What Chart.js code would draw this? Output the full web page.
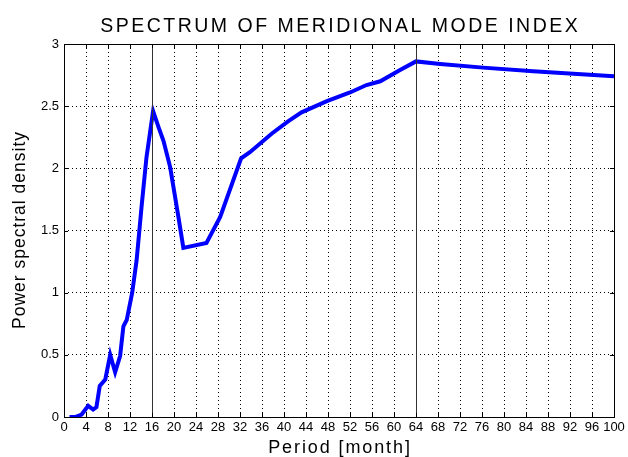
<!DOCTYPE html>
<html>
<head>
<meta charset="utf-8">
<script src="https://cdn.jsdelivr.net/npm/chart.js@4/dist/chart.umd.min.js"></script>
<style>
  html, body { margin: 0; padding: 0; background: #fff; }
  #wrap { width: 628px; height: 457px; }
</style>
</head>
<body>
<div id="wrap"><canvas id="spectrum"></canvas></div>
<script>
// period (months) and power spectral density
const periods = [1, 2, 3.2, 4.4, 5.3, 5.9, 6.5, 7.5, 8.4, 9.3, 10.2, 10.8, 11.4, 12.4, 13.2,
  14.1, 15.0, 16.2, 17.2, 18.1, 19.3, 20.8, 21.7, 25.9, 28.4, 32.2, 33.8, 37.8, 40.8,
  43.2, 47.8, 52, 55, 57.5, 61.1, 64, 68.4, 76.2, 85.3, 92.6, 100];
const psd = [0, 0, 0.02, 0.09, 0.06, 0.08, 0.25, 0.30, 0.50, 0.36, 0.49, 0.73, 0.78, 1.0, 1.26,
  1.69, 2.09, 2.46, 2.33, 2.22, 2.01, 1.61, 1.36, 1.40, 1.61, 2.08, 2.13, 2.28, 2.38,
  2.45, 2.54, 2.61, 2.67, 2.70, 2.79, 2.86, 2.84, 2.81, 2.78, 2.76, 2.74];
const markers = [16, 64];

const titleText = "SPECTRUM OF MERIDIONAL MODE INDEX";
const xLabel = "Period [month]";
const yLabel = "Power spectral density";

const font = "'Liberation Sans', Arial, sans-serif";

// frame box, inward ticks and the two marker lines
const framePlugin = {
  id: "frame",
  afterDatasetsDraw(chart) {
    const { ctx, chartArea: a, scales: { x, y } } = chart;
    ctx.save();
    ctx.strokeStyle = "#333";
    ctx.lineWidth = 1;
    markers.forEach(m => {
      const px = Math.round(x.getPixelForValue(m)) + 0.5;
      ctx.beginPath();
      ctx.moveTo(px, a.top);
      ctx.lineTo(px, a.bottom);
      ctx.stroke();
    });
    ctx.strokeStyle = "#000";
    ctx.strokeRect(Math.round(a.left) + 0.5, Math.round(a.top) + 0.5,
      Math.round(a.right - a.left), Math.round(a.bottom - a.top));
    ctx.beginPath();
    x.ticks.forEach(t => {
      const px = Math.round(x.getPixelForValue(t.value)) + 0.5;
      ctx.moveTo(px, a.bottom); ctx.lineTo(px, a.bottom - 4);
      ctx.moveTo(px, a.top); ctx.lineTo(px, a.top + 4);
    });
    y.ticks.forEach(t => {
      const py = Math.round(y.getPixelForValue(t.value)) + 0.5;
      ctx.moveTo(a.left, py); ctx.lineTo(a.left + 4, py);
      ctx.moveTo(a.right, py); ctx.lineTo(a.right - 4, py);
    });
    ctx.stroke();
    ctx.restore();
  }
};

// title and axis labels, drawn with a little extra letter spacing
const labelsPlugin = {
  id: "labels",
  afterDraw(chart) {
    const { ctx, chartArea: a } = chart;
    const cx = (a.left + a.right) / 2;
    const cy = (a.top + a.bottom) / 2;
    ctx.save();
    ctx.fillStyle = "#000";
    ctx.textAlign = "center";
    ctx.textBaseline = "alphabetic";

    ctx.font = "19.5px " + font;
    ctx.letterSpacing = "2.5px";
    ctx.fillText(titleText, cx + 1.2, 32);

    ctx.font = "18px " + font;
    ctx.letterSpacing = "1.9px";
    ctx.fillText(xLabel, cx + 1, 453);

    ctx.font = "17.5px " + font;
    ctx.letterSpacing = "1px";
    ctx.translate(25, cy);
    ctx.rotate(-Math.PI / 2);
    ctx.fillText(yLabel, 0.5, 0);
    ctx.restore();
  }
};

new Chart(document.getElementById("spectrum").getContext("2d"), {
  type: "line",
  data: {
    datasets: [
      {
        data: periods.map((p, i) => ({ x: p, y: psd[i] })),
        borderColor: "rgb(0, 0, 255)",
        borderWidth: 4,
        pointRadius: 0,
        tension: 0,
      }
    ],
  },
  options: {
    responsive: true,
    maintainAspectRatio: false,
    animation: false,
    layout: { padding: { left: 0, right: 14, top: 44, bottom: 0 } },
    plugins: {
      legend: { display: false },
      tooltip: { enabled: false },
      title: { display: false },
    },
    scales: {
      x: {
        type: "linear",
        min: 0,
        max: 100,
        ticks: { stepSize: 4, color: "#000", font: { family: font, size: 13 }, padding: 3, maxRotation: 0, autoSkip: false },
        grid: { color: "#000", drawTicks: false, lineWidth: 1 },
        border: { display: false, dash: [1, 3] },
        afterFit(scale) { scale.height = 40; },
      },
      y: {
        min: 0,
        max: 3,
        ticks: {
          stepSize: 0.5, color: "#000", font: { family: font, size: 13 }, padding: 5,
          callback: v => String(v),
        },
        grid: { color: "#000", drawTicks: false, lineWidth: 1 },
        border: { display: false, dash: [1, 3] },
        afterFit(scale) { scale.width = 64; },
      },
    },
  },
  plugins: [framePlugin, labelsPlugin],
});
</script>
</body>
</html>
